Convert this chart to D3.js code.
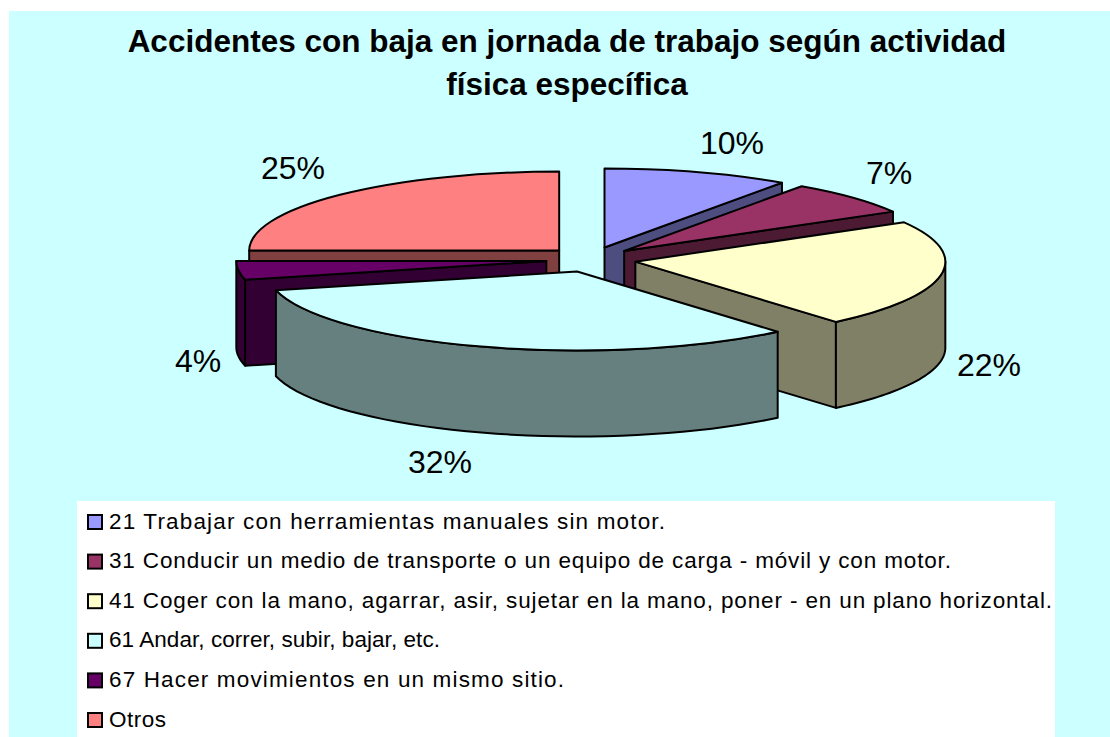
<!DOCTYPE html>
<html lang="es">
<head>
<meta charset="utf-8">
<title>Accidentes con baja</title>
<script src="https://cdn.jsdelivr.net/npm/d3@7/dist/d3.min.js"></script>
<style>
html,body{margin:0;padding:0;background:#fff;overflow:hidden}
svg{display:block}
text{font-family:"Liberation Sans",Arial,sans-serif;fill:#000}
</style>
</head>
<body>
<div id="chart"></div>
<script>
// ---- data ----
const categories = [
  "21 Trabajar con herramientas manuales sin motor.",
  "31 Conducir un medio de transporte o un equipo de carga - móvil y con motor.",
  "41 Coger con la mano, agarrar, asir, sujetar en la mano, poner - en un plano horizontal.",
  "61 Andar, correr, subir, bajar, etc.",
  "67 Hacer movimientos en un mismo sitio.",
  "Otros"
];
const values = [9.7, 7.0, 22.1, 32.4, 3.8, 25.0];
const percentLabels = ["10%", "7%", "22%", "32%", "4%", "25%"];
const colors = ["#9999FF", "#993366", "#FFFFCC", "#CCFFFF", "#660066", "#FF8080"];
const titleLines = ["Accidentes con baja en jornada de trabajo según actividad", "física específica"];

// ---- layout ----
const W = 1110, H = 737;
const rx = 310, ry = 79, depth = 86;
const cx = 591, cy = 259.5, explodeX = 45, explodeY = 12.6;
const paintOrder = [0, 1, 5, 4, 2, 3];
const labelPos = [[732, 154], [889, 184], [989, 376], [440, 473], [198, 372], [293, 179]];
const legendWidths = [556, 842, 943, 331, 455, 57];

const svg = d3.select("#chart").append("svg").attr("width", W).attr("height", H);
svg.append("rect").attr("x", 9).attr("y", 11).attr("width", W - 9).attr("height", H - 11).attr("fill", "#CCFFFF");

// title
svg.selectAll("text.title").data(titleLines).join("text")
  .attr("class", "title")
  .attr("x", 567).attr("y", (d, i) => 52 + i * 43)
  .attr("text-anchor", "middle")
  .attr("font-size", 31.5).attr("font-weight", "bold")
  .text(d => d);

// pie
const pie = d3.pie().sort(null).value(d => d);
const arcs = pie(values);
const arcGen = d3.arc().innerRadius(0).outerRadius(rx);
const line = d3.line();
const half = c => { const k = d3.rgb(c); return d3.rgb(k.r / 2, k.g / 2, k.b / 2).formatHex(); };

const slices = paintOrder.map(i => {
  const a = arcs[i], mid = (a.startAngle + a.endAngle) / 2;
  return {
    i, a,
    ox: cx + explodeX * Math.sin(mid),
    oy: cy - explodeY * Math.cos(mid)
  };
});

const rim = (s, t) => [s.ox + rx * Math.sin(t), s.oy - ry * Math.cos(t)];

const g = svg.selectAll("g.slice").data(slices).join("g").attr("class", "slice");
const wallStyle = sel => sel.attr("fill", d => half(colors[d.i]))
  .attr("stroke", "#000").attr("stroke-width", 2).attr("stroke-linejoin", "round");

// radial walls facing the viewer
function radialWall(s) {
  const paths = [];
  const addWall = t => {
    const p = rim(s, t);
    paths.push(line([[s.ox, s.oy], p, [p[0], p[1] + depth], [s.ox, s.oy + depth]]) + "Z");
  };
  if (s.a.endAngle < Math.PI) addWall(s.a.endAngle);
  if (s.a.startAngle > Math.PI) addWall(s.a.startAngle);
  return paths.join("");
}
g.append("path").attr("d", radialWall).call(wallStyle);

// outer (curved) walls facing the viewer
function rimWall(s) {
  const t0 = Math.max(s.a.startAngle, Math.PI / 2);
  const t1 = Math.min(s.a.endAngle, 3 * Math.PI / 2);
  if (t1 <= t0) return "";
  const ts = d3.range(0, 41).map(k => t0 + (t1 - t0) * k / 40);
  const top = ts.map(t => rim(s, t));
  const bottom = top.map(p => [p[0], p[1] + depth]).reverse();
  return line(top.concat(bottom)) + "Z";
}
g.append("path").attr("d", rimWall).call(wallStyle);

// top faces
g.append("path")
  .attr("transform", d => `translate(${d.ox},${d.oy}) scale(1,${ry / rx})`)
  .attr("d", d => arcGen(d.a))
  .attr("fill", d => colors[d.i])
  .attr("stroke", "#000").attr("stroke-width", 2)
  .attr("stroke-linejoin", "round")
  .attr("vector-effect", "non-scaling-stroke");

// percent labels
svg.selectAll("text.pct").data(percentLabels).join("text")
  .attr("class", "pct")
  .attr("x", (d, i) => labelPos[i][0]).attr("y", (d, i) => labelPos[i][1])
  .attr("text-anchor", "middle").attr("font-size", 32)
  .text(d => d);

// legend
svg.append("rect").attr("x", 77).attr("y", 501).attr("width", 978).attr("height", H - 501).attr("fill", "#fff");
const legendY = d3.scalePoint().domain(d3.range(categories.length)).range([522, 720]);
const lg = svg.selectAll("g.legend").data(categories).join("g").attr("class", "legend")
  .attr("transform", (d, i) => `translate(87,${legendY(i)})`);
lg.append("rect").attr("x", 1).attr("y", -7).attr("width", 14).attr("height", 14)
  .attr("fill", (d, i) => colors[i]).attr("stroke", "#000").attr("stroke-width", 2);
lg.append("text").attr("x", 22).attr("y", 6.5)
  .attr("font-size", 22.5)
  .attr("textLength", (d, i) => legendWidths[i])
  .attr("lengthAdjust", "spacing")
  .text(d => d);
</script>
</body>
</html>
